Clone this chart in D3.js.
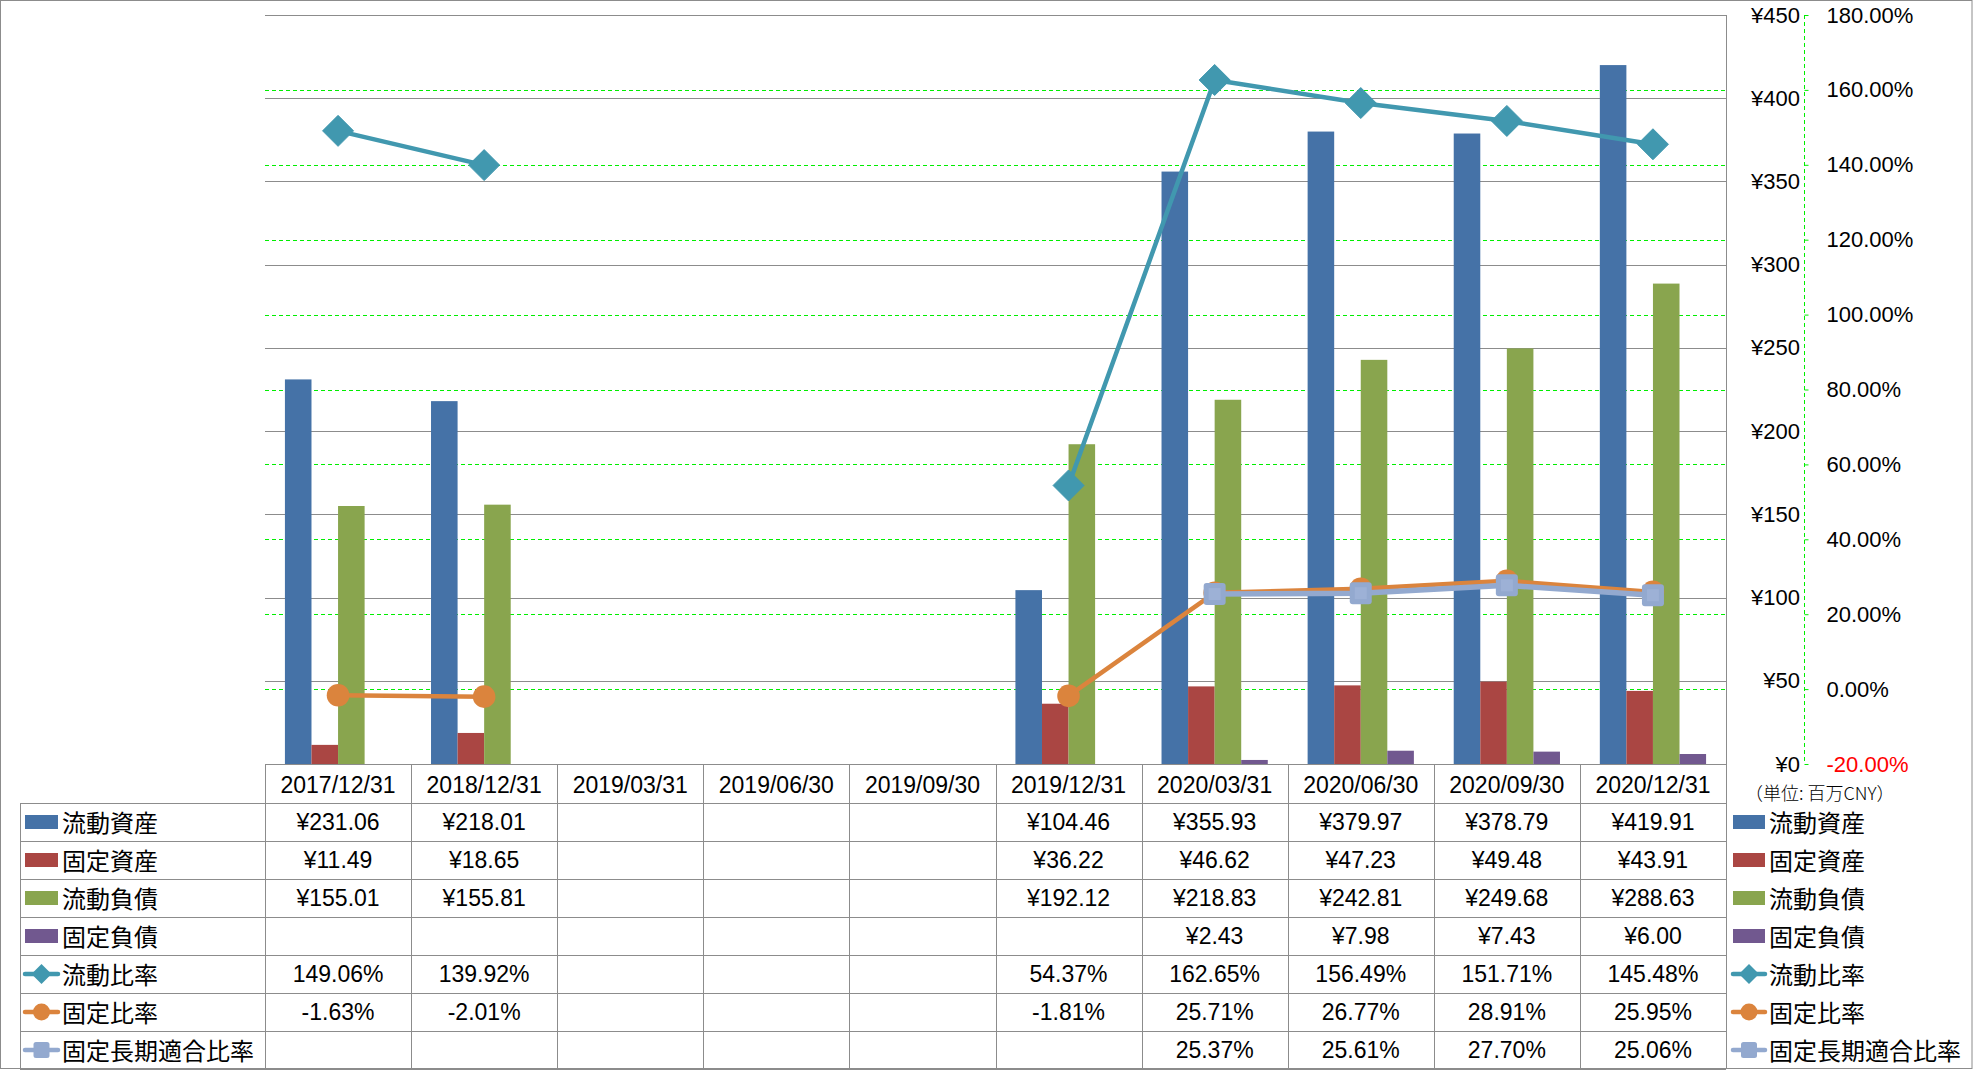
<!DOCTYPE html>
<html>
<head>
<meta charset="utf-8">
<script src="https://cdn.jsdelivr.net/npm/d3@7"></script>
<style>
  html, body { margin: 0; padding: 0; background: #fff; }
  svg { display: block; }
</style>
</head>
<body>
<div id="chart"></div>
<script>
// ---------------- DATA ----------------
const categories = ["2017/12/31", "2018/12/31", "2019/03/31", "2019/06/30", "2019/09/30",
                    "2019/12/31", "2020/03/31", "2020/06/30", "2020/09/30", "2020/12/31"];

const currentAssets      = [231.06, 218.01, null, null, null, 104.46, 355.93, 379.97, 378.79, 419.91];
const fixedAssets        = [11.49, 18.65, null, null, null, 36.22, 46.62, 47.23, 49.48, 43.91];
const currentLiabilities = [155.01, 155.81, null, null, null, 192.12, 218.83, 242.81, 249.68, 288.63];
const fixedLiabilities   = [null, null, null, null, null, null, 2.43, 7.98, 7.43, 6.00];

const currentRatio       = [149.06, 139.92, null, null, null, 54.37, 162.65, 156.49, 151.71, 145.48];
const fixedRatio         = [-1.63, -2.01, null, null, null, -1.81, 25.71, 26.77, 28.91, 25.95];
const longTermFitRatio   = [null, null, null, null, null, null, 25.37, 25.61, 27.70, 25.06];

const yenTicks = [0, 50, 100, 150, 200, 250, 300, 350, 400, 450];
const pctTicks = [-20, 0, 20, 40, 60, 80, 100, 120, 140, 160, 180];

const barSeries = [
  { name: "流動資産", values: currentAssets,      color: "#4572A7" },
  { name: "固定資産", values: fixedAssets,        color: "#AA4643" },
  { name: "流動負債", values: currentLiabilities, color: "#89A54E" },
  { name: "固定負債", values: fixedLiabilities,   color: "#71588F" }
];
const lineSeries = [
  { name: "流動比率",         values: currentRatio,     color: "#4198AF", marker: "diamond" },
  { name: "固定比率",         values: fixedRatio,       color: "#DB843D", marker: "circle" },
  { name: "固定長期適合比率", values: longTermFitRatio, color: "#93A9CF", marker: "square" }
];

// ---------------- LAYOUT ----------------
const W = 1976, H = 1071;
const plotL = 265, plotR = 1726, plotT = 15, plotB = 764;
const headerB = 803, rowH = 38;
const LATIN = "'Liberation Sans', Arial, sans-serif";
const CJK = "'Noto Sans CJK JP', 'Noto Sans CJK SC', sans-serif";

const svg = d3.select("#chart").append("svg")
  .attr("width", W).attr("height", H)
  .attr("viewBox", `0 0 ${W} ${H}`);

svg.append("rect").attr("width", W).attr("height", H).attr("fill", "#fff");

const x = d3.scaleBand().domain(categories).range([plotL, plotR]).paddingInner(0).paddingOuter(0);
const x1 = d3.scaleBand().domain(barSeries.map(s => s.name)).range([0, x.bandwidth()]).paddingInner(0).paddingOuter(0.75);
const yL = d3.scaleLinear().domain([0, 450]).range([plotB, plotT]);
const yR = d3.scaleLinear().domain([-20, 180]).range([plotB, plotT]);

// green dashed gridlines (secondary)
svg.append("g").selectAll("line").data(pctTicks.filter(d => d > -20 && d < 180)).join("line")
  .attr("x1", plotL).attr("x2", plotR)
  .attr("y1", d => Math.round(yR(d)) + 0.5).attr("y2", d => Math.round(yR(d)) + 0.5)
  .attr("stroke", "#00ee00").attr("stroke-width", 1).attr("stroke-dasharray", "4,3");

// gray gridlines (primary)
svg.append("g").selectAll("line").data(yenTicks).join("line")
  .attr("x1", plotL).attr("x2", plotR)
  .attr("y1", d => Math.round(yL(d)) + 0.5).attr("y2", d => Math.round(yL(d)) + 0.5)
  .attr("stroke", "#8c8c8c").attr("stroke-width", 1);

// plot right border
svg.append("line").attr("x1", plotR + 0.5).attr("x2", plotR + 0.5)
  .attr("y1", plotT).attr("y2", headerB + rowH * 7)
  .attr("stroke", "#8c8c8c");

// bars
const barG = svg.append("g");
barSeries.forEach(s => {
  barG.append("g").selectAll("rect")
    .data(categories.map((c, i) => ({ c, v: s.values[i] })).filter(d => d.v != null))
    .join("rect")
    .attr("x", d => x(d.c) + x1(s.name))
    .attr("width", x1.bandwidth())
    .attr("y", d => yL(d.v))
    .attr("height", d => yL(0) - yL(d.v))
    .attr("fill", s.color);
});

// primary axis labels (yen), at the right of plot
const axisL = d3.axisRight(yL).tickValues(yenTicks).tickSize(0).tickFormat(d => "¥" + d);
const gL = svg.append("g").attr("transform", `translate(1800,0)`).call(axisL);
gL.select(".domain").remove();
gL.selectAll("text").attr("x", 0).attr("text-anchor", "end")
  .attr("font-family", LATIN).attr("font-size", 22).attr("fill", "#000");

// secondary axis
const axisR = d3.axisRight(yR).tickValues(pctTicks).tickSize(4).tickFormat(d => d.toFixed(2) + "%");
const gR = svg.append("g").attr("transform", `translate(1804.5,0)`).call(axisR);
gR.select(".domain").attr("stroke", "#00ee00").attr("stroke-dasharray", "4,3")
  .attr("d", `M0,${plotT}V${plotB}`);
gR.selectAll(".tick line").attr("stroke", "#00ee00");
gR.selectAll("text").attr("x", 22)
  .attr("font-family", LATIN).attr("font-size", 22)
  .attr("fill", d => d < 0 ? "#ff0000" : "#000");

// lines + markers
function markerPath(type, s) {
  if (type === "diamond") return `M0,${-s}L${s},0L0,${s}L${-s},0Z`;
  return null;
}
lineSeries.forEach(s => {
  const pts = categories.map((c, i) => ({ c, v: s.values[i] }));
  const line = d3.line().defined(d => d.v != null)
    .x(d => x(d.c) + x.bandwidth() / 2).y(d => yR(d.v));
  const g = svg.append("g");
  g.append("path").datum(pts).attr("d", line)
    .attr("fill", "none").attr("stroke", s.color)
    .attr("stroke-width", s.marker === "square" ? 5.5 : 4.5)
    .attr("stroke-linejoin", "round");
  const valid = pts.filter(d => d.v != null);
  const m = g.selectAll("g.m").data(valid).join("g")
    .attr("transform", d => `translate(${x(d.c) + x.bandwidth() / 2},${yR(d.v)})`);
  if (s.marker === "diamond") {
    m.append("path").attr("d", markerPath("diamond", 15.5)).attr("fill", s.color)
      .attr("stroke", s.color).attr("stroke-width", 1).attr("stroke-linejoin", "round");
  } else if (s.marker === "circle") {
    m.append("circle").attr("r", 11.3).attr("fill", s.color);
  } else {
    m.append("rect").attr("x", -11).attr("y", -11).attr("width", 22).attr("height", 22)
      .attr("rx", 3).attr("fill", s.color);
    m.append("rect").attr("x", -6).attr("y", -6).attr("width", 12).attr("height", 12)
      .attr("fill", "#9db1d6");
  }
});

// ---------------- TABLE ----------------
const tbl = svg.append("g");
const gridColor = "#8c8c8c";
const nRows = barSeries.length + lineSeries.length;
const tableB = headerB + rowH * nRows;
for (let r = 0; r <= nRows; r++) {
  const yy = headerB + r * rowH + 0.5;
  tbl.append("line").attr("x1", 20).attr("x2", plotR).attr("y1", yy).attr("y2", yy).attr("stroke", gridColor);
}
tbl.append("line").attr("x1", 20.5).attr("x2", 20.5).attr("y1", headerB).attr("y2", tableB).attr("stroke", gridColor);
categories.forEach(c => {
  const xx = Math.round(x(c)) + 0.5;
  tbl.append("line").attr("x1", xx).attr("x2", xx).attr("y1", plotB).attr("y2", tableB).attr("stroke", gridColor);
});
tbl.selectAll("text.hdr").data(categories).join("text")
  .attr("x", d => x(d) + x.bandwidth() / 2).attr("y", (plotB + headerB) / 2 + 1)
  .attr("text-anchor", "middle").attr("dominant-baseline", "central")
  .attr("font-family", LATIN).attr("font-size", 23).attr("fill", "#000")
  .text(d => d);

const allSeries = [
  ...barSeries.map(s => ({ ...s, kind: "bar", fmt: v => "¥" + v.toFixed(2) })),
  ...lineSeries.map(s => ({ ...s, kind: "line", fmt: v => v.toFixed(2) + "%" }))
];

function drawLegendIcon(g, s, cx, cy, x0, x1i) {
  if (s.kind === "bar") {
    g.append("rect").attr("x", x0).attr("y", cy - 7).attr("width", x1i - x0).attr("height", 14).attr("fill", s.color);
  } else {
    g.append("line").attr("x1", x0).attr("x2", x1i).attr("y1", cy).attr("y2", cy)
      .attr("stroke", s.color).attr("stroke-width", 4.5).attr("stroke-linecap", "round");
    const mx = (x0 + x1i) / 2;
    if (s.marker === "diamond") {
      g.append("path").attr("d", markerPath("diamond", 10)).attr("transform", `translate(${mx},${cy})`).attr("fill", s.color);
    } else if (s.marker === "circle") {
      g.append("circle").attr("cx", mx).attr("cy", cy).attr("r", 8.5).attr("fill", s.color);
    } else {
      g.append("rect").attr("x", mx - 8).attr("y", cy - 8).attr("width", 16).attr("height", 16).attr("rx", 2.5).attr("fill", s.color);
    }
  }
}

allSeries.forEach((s, r) => {
  const cy = headerB + r * rowH + rowH / 2;
  drawLegendIcon(tbl, s, 42, cy, 25, 58);
  tbl.append("text").attr("x", 62).attr("y", cy - 1).attr("dominant-baseline", "central")
    .attr("font-family", CJK).attr("font-size", 24).attr("fill", "#000").text(s.name);
  categories.forEach((c, i) => {
    const v = s.values[i];
    if (v == null) return;
    tbl.append("text").attr("x", x(c) + x.bandwidth() / 2).attr("y", cy)
      .attr("text-anchor", "middle").attr("dominant-baseline", "central")
      .attr("font-family", LATIN).attr("font-size", 23).attr("fill", "#000")
      .text(s.fmt(v));
  });
  drawLegendIcon(tbl, s, 1748, cy, 1733, 1765);
  tbl.append("text").attr("x", 1769).attr("y", cy - 1).attr("dominant-baseline", "central")
    .attr("font-family", CJK).attr("font-size", 24).attr("fill", "#000").text(s.name);
});

// unit label
svg.append("text").attr("x", 1745).attr("y", 792).attr("dominant-baseline", "central")
  .attr("font-family", CJK).attr("font-size", 18).attr("font-weight", 300).attr("fill", "#000")
  .text("（単位: 百万CNY）");

// outer frame
svg.append("rect").attr("x", 0.5).attr("y", 0.5).attr("width", 1971.5).attr("height", 1068)
  .attr("fill", "none").attr("stroke", "#8c8c8c");
</script>
</body>
</html>
